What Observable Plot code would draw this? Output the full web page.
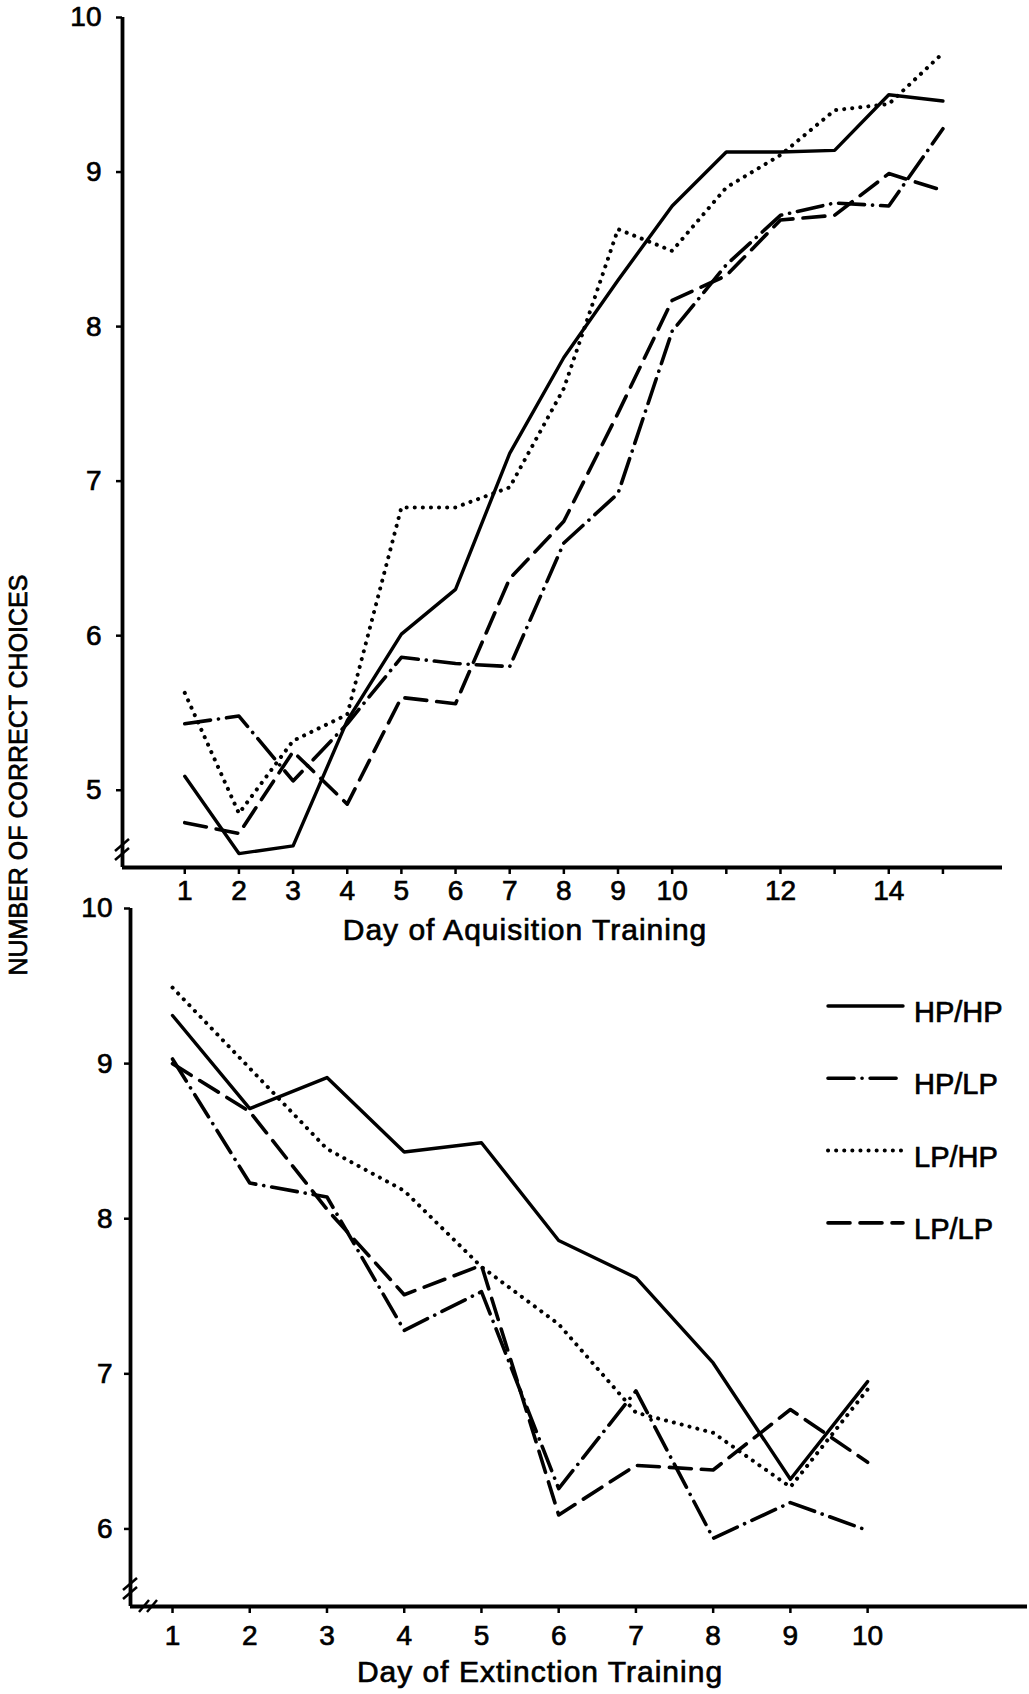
<!DOCTYPE html>
<html><head><meta charset="utf-8">
<script src="https://cdn.jsdelivr.net/npm/d3@7"></script>
<script src="https://cdn.jsdelivr.net/npm/@observablehq/plot@0.6"></script>
<style>
html,body{margin:0;padding:0;background:#fff;}
#wrap{position:relative;width:1029px;height:1694px;font-family:"Liberation Sans",Arial,sans-serif;color:#000;overflow:hidden;background:#fff}
.abs{position:absolute;white-space:nowrap}
div.abs{-webkit-text-stroke:0.7px #000}
#wrap svg text{stroke:#000;stroke-width:0.7px;paint-order:stroke}
</style></head><body><div id="wrap"></div>
<script>
// ---- data ----
const seriesNames = ["HP/HP", "HP/LP", "LP/HP", "LP/LP"];

const acqDays = [1, 2, 3, 4, 5, 6, 7, 8, 9, 10, 11, 12, 13, 14, 15];
const acqHPHP = [5.09, 4.59, 4.64, 5.45, 6.01, 6.30, 7.18, 7.80, 8.30, 8.78, 9.13, 9.13, 9.14, 9.50, 9.46];
const acqHPLP = [5.43, 5.48, 5.06, 5.43, 5.86, 5.82, 5.80, 6.60, 6.92, 7.97, 8.40, 8.72, 8.80, 8.78, 9.28];
const acqLPHP = [5.63, 4.85, 5.32, 5.49, 6.83, 6.83, 6.96, 7.60, 8.63, 8.49, 8.90, 9.11, 9.40, 9.44, 9.77];
const acqLPLP = [4.79, 4.72, 5.25, 4.91, 5.60, 5.56, 6.37, 6.74, 7.44, 8.17, 8.33, 8.69, 8.72, 8.99, 8.88];

const extDays = [1, 2, 3, 4, 5, 6, 7, 8, 9, 10];
const extHPHP = [9.31, 8.71, 8.91, 8.43, 8.49, 7.86, 7.62, 7.07, 6.32, 6.95];
const extHPLP = [9.03, 8.23, 8.14, 7.28, 7.53, 6.26, 6.89, 5.94, 6.17, 5.99];
const extLPHP = [9.49, 8.97, 8.45, 8.18, 7.69, 7.32, 6.75, 6.62, 6.27, 6.90];
const extLPLP = [9.00, 8.69, 8.06, 7.51, 7.70, 6.09, 6.41, 6.38, 6.77, 6.43];

const acqTicks = [1, 2, 3, 4, 5, 6, 7, 8, 9, 10, 11, 12, 13, 14, 15];
const acqTickLabels = ["1", "2", "3", "4", "5", "6", "7", "8", "9", "10", "", "12", "", "14", ""];
const extTicks = [1, 2, 3, 4, 5, 6, 7, 8, 9, 10];
const extTickLabels = ["1", "2", "3", "4", "5", "6", "7", "8", "9", "10"];
const acqYTicks = [5, 6, 7, 8, 9, 10];
const extYTicks = [6, 7, 8, 9, 10];

const yTitle = "NUMBER OF CORRECT CHOICES";
const acqTitle = "Day of Aquisition Training";
const extTitle = "Day of Extinction Training";

// ---- styles ----
const FONT = '"Liberation Sans", Arial, sans-serif';
const lineStyle = {
  "HP/HP": {dash: "none", width: 3.4},
  "HP/LP": {dash: "26 8 0.1 8", width: 3.6},
  "LP/HP": {dash: "0.1 8", width: 4},
  "LP/LP": {dash: "22 10", width: 3.6}
};

function table(days, cols) {
  return seriesNames.flatMap((s, i) => days.map((d, j) => ({series: s, day: d, value: cols[i][j]})));
}
const acqData = table(acqDays, [acqHPHP, acqHPLP, acqLPHP, acqLPLP]);
const extData = table(extDays, [extHPHP, extHPLP, extLPHP, extLPLP]);

function lines(data) {
  return seriesNames.map(s => Plot.line(data.filter(d => d.series === s), {
    x: "day", y: "value", stroke: "#000",
    strokeWidth: lineStyle[s].width,
    strokeDasharray: lineStyle[s].dash,
    strokeLinecap: "round", strokeLinejoin: "round"
  }));
}

const wrap = document.getElementById("wrap");
const fmtInt = d => String(d);

// ---- top panel ----
const acqXDomain = [-0.15, 16.1];
const acqYDomain = [4.5, 10];
const acqLabel = new Map(acqTicks.map((t, i) => [t, acqTickLabels[i]]));
const topPlot = Plot.plot({
  width: 1029, height: 960,
  marginLeft: 122, marginRight: 27, marginTop: 17, marginBottom: 93,
  style: {fontFamily: FONT, fontSize: "28px", color: "#000", background: "transparent", overflow: "visible"},
  x: {domain: acqXDomain},
  y: {domain: acqYDomain},
  marks: [
    Plot.axisY({ticks: acqYTicks, tickFormat: fmtInt, tickSize: 6, tickPadding: 15, label: null, strokeWidth: 2.5}),
    Plot.axisX({ticks: acqTicks, tickFormat: d => acqLabel.get(d), tickSize: 7, tickPadding: 6, label: null, strokeWidth: 2.5}),
    Plot.ruleX([acqXDomain[0]], {stroke: "#000", strokeWidth: 3.8}),
    Plot.ruleY([acqYDomain[0]], {stroke: "#000", strokeWidth: 3.8}),
    ...lines(acqData)
  ]
});
topPlot.style.position = "absolute";
topPlot.style.left = "0px";
topPlot.style.top = "0px";
wrap.appendChild(topPlot);

// ---- bottom panel ----
const extXDomain = [0.456, 12.07];
const extYDomain = [5.5, 10];
const extLabel = new Map(extTicks.map((t, i) => [t, extTickLabels[i]]));
const botPlot = Plot.plot({
  width: 1029, height: 814,
  marginLeft: 130, marginRight: 2, marginTop: 28, marginBottom: 88,
  style: {fontFamily: FONT, fontSize: "28px", color: "#000", background: "transparent", overflow: "visible"},
  x: {domain: extXDomain},
  y: {domain: extYDomain},
  marks: [
    Plot.axisY({ticks: extYTicks, tickFormat: fmtInt, tickSize: 6, tickPadding: 12, label: null, strokeWidth: 2.5}),
    Plot.axisX({ticks: extTicks, tickFormat: d => extLabel.get(d), tickSize: 7, tickPadding: 12, label: null, strokeWidth: 2.5}),
    Plot.ruleX([extXDomain[0]], {stroke: "#000", strokeWidth: 3.8}),
    Plot.ruleY([extYDomain[0]], {stroke: "#000", strokeWidth: 3.8}),
    ...lines(extData)
  ]
});
botPlot.style.position = "absolute";
botPlot.style.left = "0px";
botPlot.style.top = "880px";
wrap.appendChild(botPlot);

// ---- axis break marks (decoration at the axis lines) ----
function breaks(plot, xDom, yDom, onX) {
  const sx = plot.scale("x"), sy = plot.scale("y");
  const x0 = sx.apply(xDom[0]), y0 = sy.apply(yDom[0]);
  const gb = d3.select(plot).append("g").attr("stroke", "#000").attr("stroke-width", 2.5).attr("fill", "none");
  [-22, -13].forEach(o => gb.append("line")
    .attr("x1", x0 - 7).attr("y1", y0 + o + 6).attr("x2", x0 + 7).attr("y2", y0 + o - 6));
  if (onX) {
    [14, 22].forEach(o => gb.append("line")
      .attr("x1", x0 + o - 5).attr("y1", y0 + 6).attr("x2", x0 + o + 5).attr("y2", y0 - 6));
  }
}
breaks(topPlot, acqXDomain, acqYDomain, false);
breaks(botPlot, extXDomain, extYDomain, true);

// ---- axis titles ----
function addText(txt, css) {
  const el = document.createElement("div");
  el.className = "abs";
  el.textContent = txt;
  Object.assign(el.style, css);
  wrap.appendChild(el);
  return el;
}
addText(acqTitle, {left: "325px", top: "912px", width: "400px", textAlign: "center", fontSize: "30px", letterSpacing: "1px", lineHeight: "36px"});
addText(extTitle, {left: "340px", top: "1654px", width: "400px", textAlign: "center", fontSize: "30px", letterSpacing: "1px", lineHeight: "36px"});
addText(yTitle, {left: "-232px", top: "760px", width: "500px", textAlign: "center", fontSize: "25px", lineHeight: "30px", transform: "rotate(-90deg)"});

// ---- legend ----
const leg = d3.select(wrap).append("svg")
  .attr("class", "abs")
  .style("left", "820px").style("top", "980px")
  .attr("width", 209).attr("height", 270);
const g = leg.selectAll("g").data(seriesNames).join("g")
  .attr("transform", (d, i) => `translate(0,${26 + i * 72.3})`);
g.append("line")
  .attr("x1", 8).attr("x2", 83).attr("y1", 0).attr("y2", 0)
  .attr("stroke", "#000")
  .attr("stroke-width", d => lineStyle[d].width)
  .attr("stroke-dasharray", d => lineStyle[d].dash)
  .attr("stroke-linecap", "round");
g.append("text")
  .attr("x", 94).attr("y", 6).attr("dy", "0.35em")
  .attr("font-family", FONT).attr("font-size", 29)
  .text(d => d);
</script>
</body></html>
